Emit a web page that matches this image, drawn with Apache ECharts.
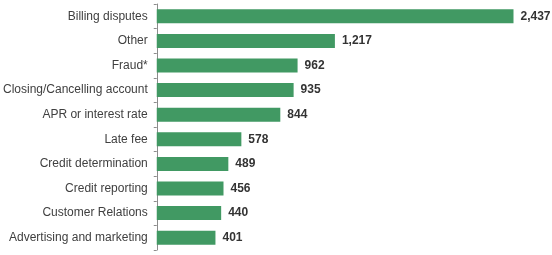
<!DOCTYPE html>
<html><head><meta charset="utf-8">
<script src="https://cdn.jsdelivr.net/npm/echarts@6/dist/echarts.min.js"></script>
<style>html,body{margin:0;padding:0;background:#fff}#c{width:552px;height:255px}</style>
</head><body><div id="c"></div>
<script>
const categories = ["Billing disputes","Other","Fraud*","Closing/Cancelling account","APR or interest rate","Late fee","Credit determination","Credit reporting","Customer Relations","Advertising and marketing"];
const values = [2437,1217,962,935,844,578,489,456,440,401];
const chart = echarts.init(document.getElementById('c'), null, {renderer:'canvas'});
chart.setOption({
  animation:false,
  grid:{left:155,top:4,width:397,height:246,containLabel:false},
  xAxis:{type:'value',min:0,max:2700,show:false},
  yAxis:{type:'category',data:categories,inverse:true,
    axisLine:{lineStyle:{color:'#8c8c8c',width:1}},
    axisTick:{show:true,length:3,lineStyle:{color:'#8c8c8c'}},
    axisLabel:{color:'#404040',fontSize:12,fontFamily:'Liberation Sans, Arial, sans-serif',margin:9}
  },
  series:[{type:'bar',data:values,barWidth:14,
    itemStyle:{color:'#419963'},
    label:{show:true,position:'right',distance:7,color:'#333',fontWeight:'bold',fontSize:12,
      fontFamily:'Liberation Sans, Arial, sans-serif',
      formatter:p=>p.value.toLocaleString('en-US')}
  }]
});
</script></body></html>
